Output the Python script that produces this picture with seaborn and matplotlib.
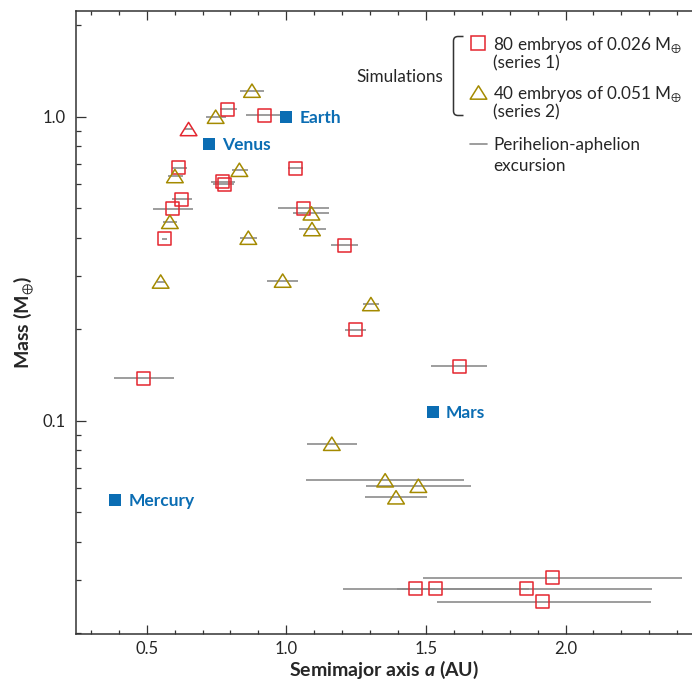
import matplotlib
matplotlib.use("Agg")
import numpy as np
import pandas as pd
import matplotlib.pyplot as plt
import seaborn as sns
from matplotlib.path import Path
from matplotlib.markers import MarkerStyle
from matplotlib.lines import Line2D
from matplotlib.patches import PathPatch
from matplotlib.ticker import MultipleLocator, LogLocator, NullFormatter, FixedLocator, FuncFormatter

sns.set_style("ticks")
plt.rcParams['font.family'] = ['Lato', 'DejaVu Sans']
plt.rcParams['mathtext.fontset'] = 'custom'
plt.rcParams['mathtext.rm'] = 'Lato'
plt.rcParams['mathtext.it'] = 'Lato:italic:bold'
plt.rcParams['mathtext.fallback'] = 'stixsans'

# series 1: 80 embryos of 0.026 M_earth (semimajor axis, mass, perihelion, aphelion)
s1_a = [0.791, 0.923, 1.032, 0.771, 0.777, 0.613, 0.625, 0.594, 0.564, 1.063,
        1.209, 1.249, 0.487, 1.619, 1.953, 1.463, 1.536, 1.861, 1.918]
s1_mass = [1.06, 1.01, 0.676, 0.611, 0.599, 0.68, 0.536, 0.498, 0.397, 0.50,
           0.378, 0.199, 0.138, 0.151, 0.0305, 0.028, 0.028, 0.028, 0.0254]
s1_peri = [0.763, 0.856, 1.005, 0.729, 0.739, 0.590, 0.590, 0.524, 0.555, 0.971,
           1.161, 1.211, 0.383, 1.519, 1.489, 1.395, 1.202, 1.413, 1.539]
s1_aph = [0.824, 0.989, 1.061, 0.816, 0.814, 0.643, 0.661, 0.665, 0.574, 1.153,
          1.256, 1.284, 0.598, 1.719, 2.416, 1.532, 1.870, 2.309, 2.306]

# one series-1 body drawn as a red triangle
odd_a = [0.650]
odd_mass = [0.911]
odd_peri = [0.637]
odd_aph = [0.663]

# series 2: 40 embryos of 0.051 M_earth
s2_a = [0.877, 0.747, 0.832, 0.601, 0.583, 0.864, 0.550, 0.987, 1.090, 1.092,
        1.303, 1.163, 1.354, 1.473, 1.393]
s2_mass = [1.218, 1.00, 0.669, 0.638, 0.451, 0.40, 0.287, 0.289, 0.481, 0.427,
           0.242, 0.084, 0.0637, 0.0611, 0.056]
s2_peri = [0.834, 0.712, 0.804, 0.575, 0.557, 0.834, 0.536, 0.932, 1.025, 1.045,
           1.276, 1.073, 1.069, 1.285, 1.282]
s2_aph = [0.920, 0.784, 0.862, 0.631, 0.610, 0.894, 0.566, 1.041, 1.154, 1.141,
          1.333, 1.252, 1.638, 1.660, 1.505]

# real planets
planets = ["Mercury", "Venus", "Earth", "Mars"]
planet_a = [0.387, 0.723, 1.0, 1.524]
planet_mass = [0.055, 0.815, 1.0, 0.107]

RED = '#e4262f'
OLIVE = '#a48a00'
GREY = '#8c8c8c'
BLUE = '#0b6db3'
DARK = '#333333'

df1 = pd.DataFrame({'a': s1_a, 'mass': s1_mass, 'peri': s1_peri, 'aph': s1_aph})
dfo = pd.DataFrame({'a': odd_a, 'mass': odd_mass, 'peri': odd_peri, 'aph': odd_aph})
df2 = pd.DataFrame({'a': s2_a, 'mass': s2_mass, 'peri': s2_peri, 'aph': s2_aph})
dfp = pd.DataFrame({'name': planets, 'a': planet_a, 'mass': planet_mass})

W, H = 692, 684


def px(x, y):
    # figure pixel (from top-left) -> figure fraction
    return x / W, 1 - y / H


tri = MarkerStyle(Path([(0, 0.8), (-1, -0.8), (1, -0.8), (0, 0.8)],
                       [Path.MOVETO, Path.LINETO, Path.LINETO, Path.CLOSEPOLY]))

fig = plt.figure(figsize=(W / 100, H / 100), dpi=100)
ax = fig.add_axes([75.7 / W, 1 - 633.7 / H, 1 - 75.7 / W, (633.7 - 11) / H])

# perihelion-aphelion excursions
for d in (df1, dfo, df2):
    ax.hlines(d['mass'], d['peri'], d['aph'], color=GREY, lw=1.2, zorder=1)

sns.scatterplot(data=df1, x='a', y='mass', marker='s', s=88, facecolors='none',
                edgecolor=RED, linewidth=1.1, ax=ax, zorder=3)
sns.scatterplot(data=dfo, x='a', y='mass', marker=tri, s=144, facecolors='none',
                edgecolor=RED, linewidth=1.1, ax=ax, zorder=3)
sns.scatterplot(data=df2, x='a', y='mass', marker=tri, s=144, facecolors='none',
                edgecolor=OLIVE, linewidth=1.1, ax=ax, zorder=3)
sns.scatterplot(data=dfp, x='a', y='mass', marker='s', s=84, color=BLUE,
                linewidth=0, ax=ax, zorder=4)

for name, a, m in zip(planets, planet_a, planet_mass):
    ax.annotate(name, (a, m), xytext=(9.5, -4.4), textcoords='offset points',
                va='baseline', ha='left', color=BLUE, fontsize=12.5, fontweight='bold')

ax.set_yscale('log')
ax.set_xlim(0.2457, 2.453)
ax.set_ylim(0.01993, 2.227)

ax.xaxis.set_major_locator(MultipleLocator(0.5))
ax.xaxis.set_minor_locator(MultipleLocator(0.1))
ax.xaxis.set_major_formatter(FuncFormatter(lambda v, p: f"{v:.1f}"))
ax.yaxis.set_major_locator(FixedLocator([0.1, 1.0]))
ax.yaxis.set_minor_locator(LogLocator(base=10, subs=np.arange(2, 10)))
ax.yaxis.set_major_formatter(FuncFormatter(lambda v, p: f"{v:.1f}"))
ax.yaxis.set_minor_formatter(NullFormatter())

ax.tick_params(axis='x', which='both', direction='in', top=True, bottom=True,
               color=DARK, width=0.9, labelsize=12, pad=5)
ax.tick_params(axis='x', which='major', length=6.7)
ax.tick_params(axis='x', which='minor', length=3.1)
ax.tick_params(axis='y', which='both', direction='in', left=True, right=False,
               color=DARK, width=0.9, labelsize=12, pad=7)
ax.tick_params(axis='y', which='major', length=7.2)
ax.tick_params(axis='y', which='minor', length=3.6)

for side in ('left', 'bottom', 'top'):
    ax.spines[side].set_color(DARK)
    ax.spines[side].set_linewidth(1.1)
ax.spines['right'].set_visible(False)

ax.set_xlabel(r"Semimajor axis $a$ (AU)", fontsize=14, fontweight='bold', labelpad=2)
ax.set_ylabel(r"Mass (M$_{\oplus}$)", fontsize=14, fontweight='bold', labelpad=5)

# legend drawn by hand
fig.text(*px(443, 81.5), "Simulations", ha='right', va='baseline', fontsize=12.3)
bracket = Path([px(463.5, 36.5), px(458, 36.5), px(453.5, 36.5), px(453.5, 41),
                px(453.5, 111), px(453.5, 115.5), px(458, 115.5), px(463.5, 115.5)],
               [Path.MOVETO, Path.LINETO, Path.CURVE3, Path.CURVE3,
                Path.LINETO, Path.CURVE3, Path.CURVE3, Path.LINETO])
fig.add_artist(PathPatch(bracket, transform=fig.transFigure, fill=False,
                         lw=1.1, color=DARK))

fig.add_artist(Line2D(*zip(px(477.7, 43.3)), marker='s', markersize=9.4, mfc='none',
                      mec=RED, mew=1.1, transform=fig.transFigure))
fig.add_artist(Line2D(*zip(px(477.7, 92.3)), marker=tri, markersize=12, mfc='none',
                      mec=OLIVE, mew=1.1, transform=fig.transFigure))
fig.add_artist(Line2D(*zip(px(470, 144), px(486.7, 144)), color=GREY, lw=1.2,
                      transform=fig.transFigure))

legend_lines = [(50, r"80 embryos of 0.026 M$_{\oplus}$"), (68, "(series 1)"),
                (99.5, r"40 embryos of 0.051 M$_{\oplus}$"), (117, "(series 2)"),
                (150, "Perihelion-aphelion"), (171, "excursion")]
for yb, txt in legend_lines:
    fig.text(*px(493, yb), txt, ha='left', va='baseline', fontsize=12.3)

fig.savefig("out.png", dpi=100)
